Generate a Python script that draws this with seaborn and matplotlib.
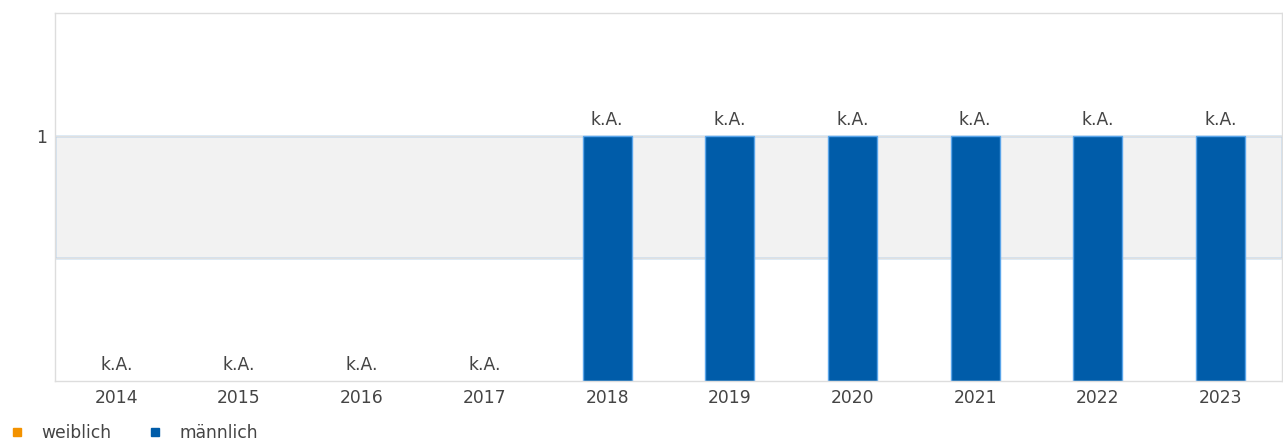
import matplotlib
matplotlib.use("Agg")
import matplotlib.pyplot as plt
import seaborn as sns
import pandas as pd
from matplotlib.lines import Line2D

years = ["2014", "2015", "2016", "2017", "2018", "2019", "2020", "2021", "2022", "2023"]
weiblich = [0, 0, 0, 0, 0, 0, 0, 0, 0, 0]
maennlich = [0, 0, 0, 0, 1, 1, 1, 1, 1, 1]
bar_labels = ["k.A."] * 10
series_names = ["weiblich", "männlich"]
colors = {"weiblich": "#f39200", "männlich": "#005ca9"}

sns.set_theme(style="white")
plt.rcParams["font.family"] = ["DejaVu Sans"]

df = pd.DataFrame({
    "Jahr": years * 2,
    "Wert": weiblich + maennlich,
    "Geschlecht": ["weiblich"] * len(years) + ["männlich"] * len(years),
})

FS = 12.3
TXT = "#444444"

fig = plt.figure(figsize=(12.83, 4.41), dpi=100)
ax = fig.add_axes([55 / 1283, 1 - 381 / 441, (1282 - 55) / 1283, (381 - 13) / 441])

ax.axhspan(0.5, 1.0, facecolor="#f2f2f2", edgecolor="none", lw=0, zorder=0)
for yv in (0.5, 1.0):
    ax.axhline(yv, color="#e0e0e0", lw=1, zorder=0.5)

sns.barplot(data=df, x="Jahr", y="Wert", hue="Geschlecht", palette=colors,
            dodge=False, width=0.4, ax=ax, saturation=1,
            legend=False, zorder=2)

for p in ax.patches:
    if p.get_height() > 0:
        p.set_edgecolor("#5aa5ea")
        p.set_linewidth(1)
    else:
        p.set_linewidth(0)

ax.set_ylim(0, 1.5)
ax.set_xlim(-0.5, len(years) - 0.5)
ax.set_yticks([1])
ax.set_yticklabels(["1"])
ax.set_xlabel("")
ax.set_ylabel("")
ax.tick_params(axis="x", length=0, labelsize=FS, colors=TXT, pad=5.5)
ax.tick_params(axis="y", length=0, labelsize=FS, colors=TXT, pad=6)

for i, (lab, v) in enumerate(zip(bar_labels, maennlich)):
    ax.annotate(lab, (i, v), xytext=(0, 5), textcoords="offset points",
                ha="center", va="bottom", fontsize=FS, color=TXT)

for side in ("left", "bottom", "top", "right"):
    ax.spines[side].set_color("#dddddd")
    ax.spines[side].set_linewidth(1)

handles = [Line2D([0], [0], marker="s", linestyle="", markersize=6,
                  markerfacecolor=colors[n], markeredgecolor=colors[n]) for n in series_names]
fig.legend(handles, series_names, loc="center left", bbox_to_anchor=(3 / 1283, 1 - 433 / 441),
           ncol=2, frameon=False, fontsize=FS, handletextpad=0.97, columnspacing=2.0,
           labelcolor=TXT, handlelength=1.0, borderaxespad=0, borderpad=0.3)

fig.savefig("out.png", dpi=100)
